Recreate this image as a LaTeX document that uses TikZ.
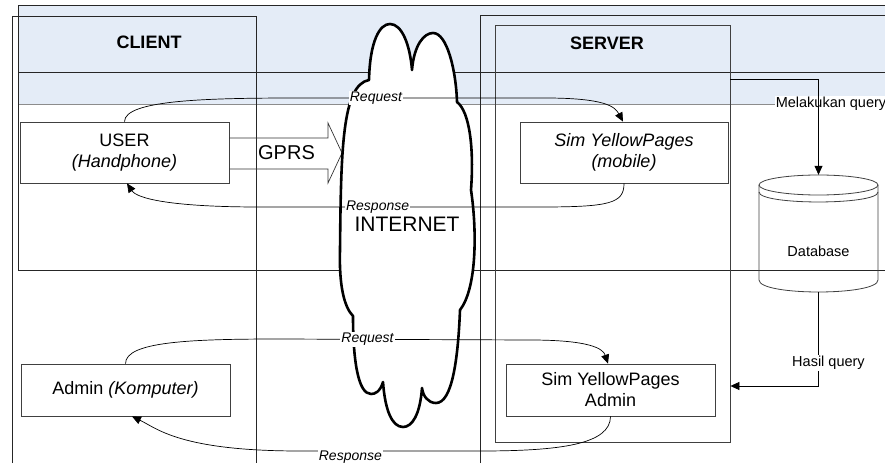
\documentclass[tikz,border=0pt]{standalone}
\usepackage{fontspec}
\setmainfont{Liberation Sans}
\usetikzlibrary{arrows.meta,calc}
\definecolor{laneblue}{RGB}{228,236,247}

\begin{document}
\begin{tikzpicture}[x=1pt,y=-1pt,
  lane/.style={draw=black!85, line width=0.8pt},
  box/.style={draw=black!75, line width=0.8pt, fill=white, align=center,
    inner sep=0pt, font=\fontsize{18}{21}\selectfont},
  conn/.style={draw=black, line width=0.7pt, -{Triangle[length=9pt,width=8pt]}},
  flow/.style={draw=black!80, line width=0.7pt},
  lbl/.style={fill=white, inner sep=1pt, font=\fontsize{14}{16}\selectfont\itshape},
  qlbl/.style={fill=white, inner sep=1pt, font=\fontsize{14.5}{16}\selectfont},
  title/.style={font=\fontsize{18}{21}\selectfont\bfseries},
  cloudline/.style={draw=black, fill=white, line width=2.6pt, line join=round},
  dbline/.style={draw=black!75, line width=0.8pt},
]
\useasboundingbox (0,0) rectangle (885,465);

% header band of the upper lane
\fill[laneblue] (18,5) rectangle (885,104);
\draw[black!45, line width=0.6pt] (18,104) -- (885,104);
\draw[lane] (885,5) -- (18,5) -- (18,270) -- (885,270);
\draw[lane] (18,72) -- (885,72);

% client column
\draw[lane] (12,463) -- (12,16) -- (256,16) -- (256,463);
% server column and server frame
\draw[lane] (480,463) -- (480,15) -- (885,15);
\node[draw=black!75, line width=0.8pt, minimum width=235pt, minimum height=417pt,
  inner sep=0pt] (srv) at (612.5,233.5) {};

\node[title] (client) at (149,42) {CLIENT};
\node[title] (server) at (607,43) {SERVER};

% boxes
\node[box, minimum width=209pt, minimum height=61pt] (user) at (124.5,152.5)
  {USER\\\textit{(Handphone)}};
\node[box, minimum width=208pt, minimum height=61pt] (mob) at (624,152.5)
  {\textit{Sim YellowPages}\\\textit{(mobile)}};
\node[box, minimum width=209pt, minimum height=52pt] (adm) at (125.5,390)
  {Admin \textit{(Komputer)}};
\node[box, minimum width=209pt, minimum height=52pt] (sadm) at (610.5,390)
  {Sim YellowPages\\Admin};

% GPRS block arrow
\draw[flow, line join=miter] (user.east |- 0,138) -- (328,138) -- (328,123) -- (342,153)
  -- (328,183) -- (328,169) -- (user.east |- 0,169);
\node[font=\fontsize{20}{24}\selectfont] (gprs) at (286.5,153) {GPRS};

% internet cloud: bumps joined at sharp notches
\draw[cloudline]
  (369,80) .. controls (370,40) and (380,24) .. (390,24)
           .. controls (402,24) and (410,45) .. (412,70)
           .. controls (414,45) and (424,33) .. (433,33)
           .. controls (447,33) and (456,70) .. (457,102)
           .. controls (470,112) and (474,150) .. (471,190)
           .. controls (477,230) and (477,288) .. (460,310)
           .. controls (458,360) and (452,403) .. (436,403)
           .. controls (428,403) and (423,396) .. (422,388)
           .. controls (420,415) and (412,427) .. (403,427)
           .. controls (392,427) and (385,410) .. (383,382)
           .. controls (380,392) and (375,394) .. (371,394)
           .. controls (358,394) and (353,360) .. (353,316)
           .. controls (344,307) and (339,285) .. (340,250)
           .. controls (341,150) and (342,85) .. (369,80)
  -- cycle;
\node[font=\fontsize{21}{24}\selectfont] (inet) at (407,224) {INTERNET};

% request / response flows
\draw[conn] (user.north) .. controls +(0,-22) and +(-90,0) .. (300,98)
  -- node[lbl, pos=0.31] {Request} (545,98)
  .. controls +(60,0) and +(-8,-15) .. ([xshift=-1pt]mob.north);
\draw[conn] (mob.south) .. controls +(0,20) and +(70,0) .. (540,207)
  -- node[lbl, pos=0.58] {Response} (260,207)
  .. controls +(-90,0) and +(10,15) .. ([xshift=2.5pt]user.south);
\draw[conn] (adm.north) .. controls +(0,-22) and +(-90,0) .. (280,339)
  -- node[lbl, pos=0.35] {Request} (530,340)
  .. controls +(60,0) and +(-5,-15) .. ([xshift=-2.5pt]sadm.north);
\draw[conn] (sadm.south) .. controls +(0,28) and +(80,0) .. (480,451)
  -- node[lbl, pos=0.72, yshift=-6pt] {Response} (300,451)
  .. controls +(-120,0) and +(25,12) .. ([xshift=6.5pt]adm.south);

% database
\node[minimum width=119pt, minimum height=117pt, inner sep=0pt] (db) at (818.5,233.5) {};
\draw[dbline] (818.5,185) ellipse [x radius=59.5, y radius=10];
\draw[dbline] (759,192) .. controls (759,205.3) and (878,205.3) .. (878,192);
\draw[dbline] (759,185) -- (759,280) .. controls (759,296) and (878,296) .. (878,280) -- (878,185);
\node[font=\fontsize{14.5}{16}\selectfont] (dbtext) at (818.5,251) {Database};

% query flows
\node[qlbl] (mq) at (831,104) {Melakukan query};
\draw[conn] ([yshift=-55pt]srv.north east) -| (db.north);
\draw[conn] (db.south) |- node[qlbl, pos=0.378, xshift=10pt] {Hasil query}
  ([yshift=-152.5pt]srv.east);
\end{tikzpicture}
\end{document}
